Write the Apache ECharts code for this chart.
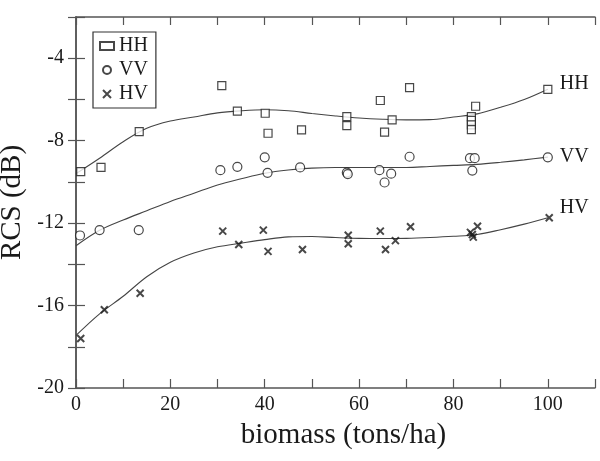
<!DOCTYPE html>
<html>
<head>
<meta charset="utf-8">
<script src="https://cdn.jsdelivr.net/npm/echarts@6/dist/echarts.min.js"></script>
<style>
  html, body { margin: 0; padding: 0; background: #fff; }
  #chart { width: 600px; height: 461px; }
</style>
</head>
<body>
<div id="chart"></div>
<script>
// measured points (biomass in tons/ha, RCS in dB)
const hhX = [1, 5.3, 13.4, 30.9, 34.2, 40.1, 40.7, 47.8, 57.4, 57.4, 64.5, 65.4, 67.0, 70.7, 84.7, 83.8, 83.8, 83.8, 83.8, 100];
const hhY = [-9.5, -9.3, -7.56, -5.33, -6.57, -6.67, -7.64, -7.48, -6.83, -7.27, -6.05, -7.59, -6.99, -5.43, -6.33, -6.83, -7.02, -7.23, -7.46, -5.51];

const vvX = [0.85, 5, 13.3, 30.6, 34.2, 40, 40.6, 47.5, 57.4, 57.6, 64.3, 65.4, 66.8, 70.7, 83.5, 84.5, 84, 100];
const vvY = [-12.6, -12.34, -12.34, -9.43, -9.27, -8.81, -9.56, -9.3, -9.55, -9.62, -9.43, -10.03, -9.6, -8.78, -8.85, -8.85, -9.45, -8.81];

const hvX = [1, 6, 13.6, 31.1, 34.5, 39.7, 40.7, 48, 57.7, 57.7, 64.5, 65.6, 67.7, 70.9, 85.1, 84, 84.2, 83.6, 100.3];
const hvY = [-17.6, -16.2, -15.4, -12.39, -13.04, -12.34, -13.37, -13.28, -12.59, -13.0, -12.39, -13.28, -12.85, -12.18, -12.15, -12.55, -12.68, -12.45, -11.74];

// fitted curves
const fitX = [0, 5, 10, 15, 20, 25, 30, 35, 40, 45, 50, 55, 60, 65, 70, 75, 80, 85, 90, 95, 100];
const hhFit = [-9.6, -8.85, -8.05, -7.4, -7.05, -6.85, -6.65, -6.55, -6.5, -6.55, -6.68, -6.8, -6.9, -6.96, -6.99, -6.98, -6.85, -6.7, -6.38, -6.0, -5.5];
const vvFit = [-13.1, -12.35, -11.85, -11.4, -10.95, -10.55, -10.15, -9.85, -9.58, -9.42, -9.33, -9.3, -9.3, -9.3, -9.3, -9.25, -9.2, -9.15, -9.05, -8.93, -8.8];
const hvFit = [-17.45, -16.4, -15.55, -14.6, -13.9, -13.45, -13.15, -12.97, -12.8, -12.67, -12.65, -12.7, -12.74, -12.75, -12.74, -12.7, -12.64, -12.55, -12.32, -12.05, -11.74];

const xTickLabels = [0, 20, 40, 60, 80, 100];
const yTickLabels = [-4, -8, -12, -16, -20];

const font = 'Liberation Serif';
const ink = '#1a1a1a';
const crossPath = 'path://M0,0L10,10M10,0L0,10';

const zip = (xs, ys) => xs.map((x, i) => [x, ys[i]]);

const chart = echarts.init(document.getElementById('chart'), null, { renderer: 'canvas' });

const fitLine = (name, ys, label, offset) => ({
  name,
  type: 'line',
  data: zip(fitX, ys),
  smooth: 0.35,
  showSymbol: false,
  silent: true,
  z: 1,
  lineStyle: { color: '#444', width: 1.1 },
  endLabel: {
    show: true,
    formatter: () => label,
    fontFamily: font,
    fontSize: 20,
    color: ink,
    distance: 12,
    offset
  }
});

const marks = (name, xs, ys, symbol, size, extra) => ({
  name,
  type: 'scatter',
  data: zip(xs, ys),
  symbol,
  symbolSize: size,
  z: 3,
  itemStyle: Object.assign({ color: '#fff', borderColor: ink, borderWidth: 1.2 }, extra || {})
});

chart.setOption({
  animation: false,
  backgroundColor: '#fff',
  grid: { left: 76, right: 5, top: 17, bottom: 73, outerBoundsMode: 'none', containLabel: false },
  legend: {
    data: ['HH', 'VV', 'HV'],
    orient: 'vertical',
    left: 93,
    top: 32,
    padding: [4, 8, 4, 6],
    itemGap: 4,
    itemWidth: 14,
    itemHeight: 8,
    borderColor: '#333',
    borderWidth: 1.2,
    selectedMode: false,
    textStyle: { fontFamily: font, fontSize: 20, color: ink, padding: [0, 0, 0, 0] }
  },
  xAxis: [
    {
      type: 'value',
      min: 0,
      max: 110,
      interval: 10,
      name: 'biomass (tons/ha)',
      nameLocation: 'middle',
      nameGap: 33,
      nameTextStyle: { fontFamily: font, fontSize: 29, color: ink, padding: [0, 0, 0, 16] },
      axisLine: { show: true, lineStyle: { color: '#555', width: 1.5 } },
      axisTick: { inside: true, length: 9, lineStyle: { color: '#555', width: 1.2 } },
      axisLabel: {
        fontFamily: font, fontSize: 20, color: ink, margin: 7,
        formatter: v => (xTickLabels.includes(v) ? String(v) : '')
      },
      splitLine: { show: false }
    },
    {
      type: 'value',
      position: 'top',
      min: 0,
      max: 110,
      interval: 10,
      axisLine: { show: true, lineStyle: { color: '#555', width: 1.5 } },
      axisTick: { inside: true, length: 8, lineStyle: { color: '#555', width: 1.2 } },
      axisLabel: { show: false },
      splitLine: { show: false }
    }
  ],
  yAxis: [
    {
      type: 'value',
      min: -20,
      max: -2,
      interval: 2,
      name: 'RCS (dB)',
      nameLocation: 'middle',
      nameGap: 44,
      nameTextStyle: { fontFamily: font, fontSize: 29, color: ink },
      axisLine: { show: true, lineStyle: { color: '#555', width: 1.5 } },
      axisTick: { inside: true, length: 9, lineStyle: { color: '#555', width: 1.2 } },
      axisLabel: {
        fontFamily: font, fontSize: 20, color: ink, margin: 12,
        formatter: v => (yTickLabels.includes(v) ? String(v) : '')
      },
      splitLine: { show: false }
    },
    {
      type: 'value',
      position: 'right',
      min: -20,
      max: -2,
      interval: 2,
      axisLine: { show: true, lineStyle: { color: '#555', width: 1.5 } },
      axisTick: { inside: true, length: 8, lineStyle: { color: '#555', width: 1.2 } },
      axisLabel: { show: false },
      splitLine: { show: false }
    }
  ],
  series: [
    fitLine('HH fit', hhFit, 'HH', [0, -5]),
    fitLine('VV fit', vvFit, 'VV', [0, 0]),
    fitLine('HV fit', hvFit, 'HV', [0, -10]),
    marks('HH', hhX, hhY, 'rect', 8),
    marks('VV', vvX, vvY, 'circle', 9),
    marks('HV', hvX, hvY, crossPath, 7, { color: 'none', borderWidth: 2 })
  ]
});
</script>
</body>
</html>
